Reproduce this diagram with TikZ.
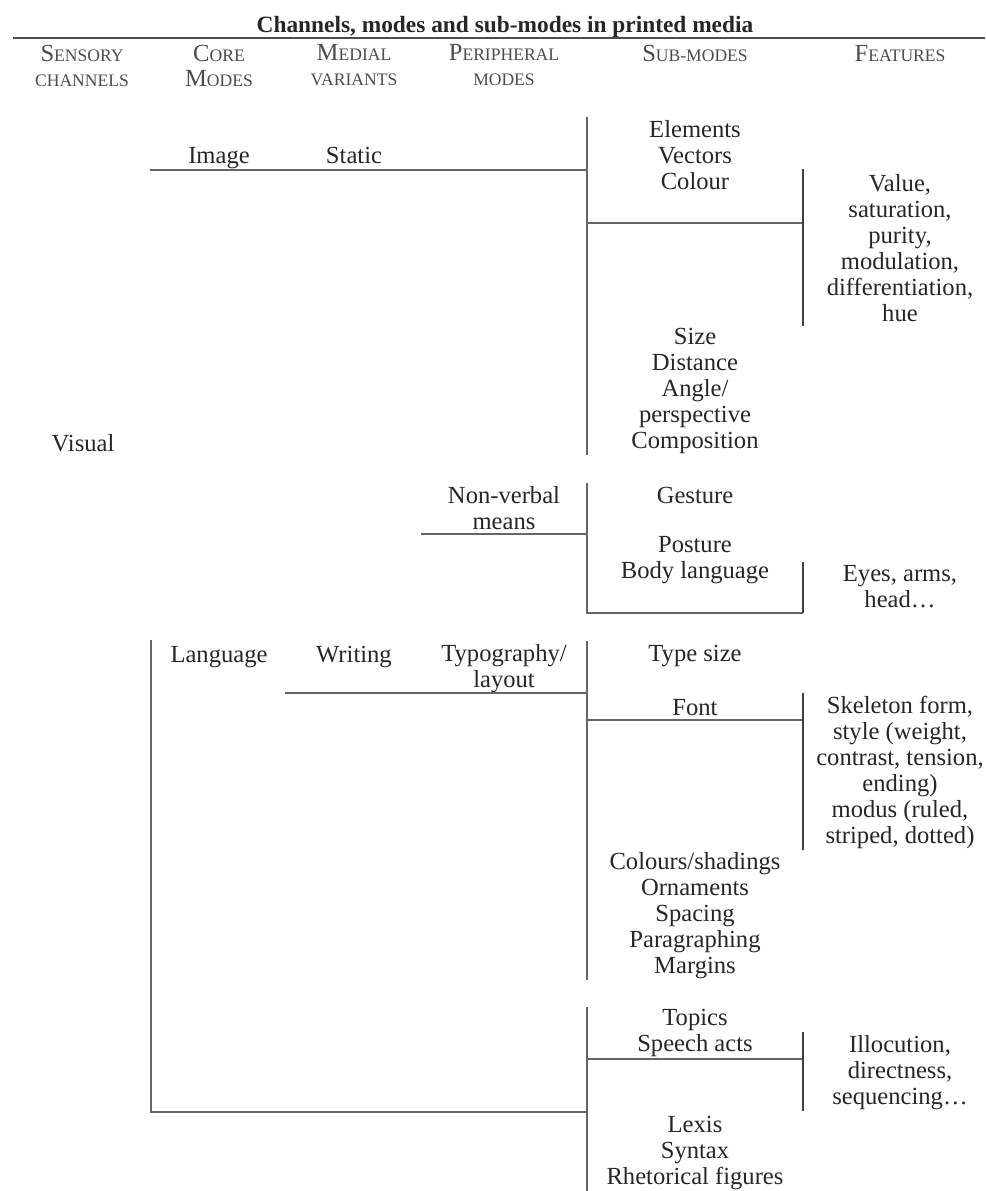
\documentclass[tikz,border=0pt]{standalone}
\usepackage{fontspec}
\setmainfont{Liberation Serif}
\newcommand\fakesc[2]{#1{\fontsize{10}{10}\selectfont #2}}
\tikzset{
  lbl/.style={font=\fontsize{14}{14.8}\selectfont, align=center, inner sep=0pt, text=black!85},
  one/.style={lbl, text height=11pt, text depth=1.5pt},
  hdr/.style={font=\fontsize{14}{14.2}\selectfont, align=center, inner sep=0pt, text=black!70},
  brk/.style={draw=black!60, line width=1.2pt},
  fbrk/.style={draw=black!75, line width=0.9pt},
}

\begin{document}
\begin{tikzpicture}[x=0.02cm, y=-0.02cm]
\useasboundingbox (0,0) rectangle (985,1191);
% title and column heads
\node[font=\bfseries\fontsize{13.3}{16}\selectfont, inner sep=0pt, text=black!85, text height=10.5pt, text depth=1.5pt] (title) at (505,25) {Channels, modes and sub-modes in printed media};
\coordinate (ruleL) at (13,38);
\coordinate (ruleR) at (985,38);
\draw[draw=black!70, line width=1.4pt] (ruleL) -- (ruleR);
\node[hdr] (hsens) at (82,65.5) {\fakesc{S}{ENSORY}\\\fakesc{}{CHANNELS}};
\node[hdr] (hcore) at (219,65.5) {\fakesc{C}{ORE}\\\fakesc{M}{ODES}};
\node[hdr] (hmed) at (354,65.5) {\fakesc{M}{EDIAL}\\\fakesc{}{VARIANTS}};
\node[hdr] (hper) at (504,65.5) {\fakesc{P}{ERIPHERAL}\\\fakesc{}{MODES}};
\node[hdr, text height=11pt, text depth=1.5pt] (hsub) at (695,53) {\fakesc{S}{UB-MODES}};
\node[hdr, text height=11pt, text depth=1.5pt] (hfeat) at (900,53) {\fakesc{F}{EATURES}};

% visual channel
\node[one] (visual) at (83,443) {Visual};
\node[one] (image) at (219,155) {Image};
\node[one] (static) at (354,155) {Static};
\node[lbl] (elements) at (695,155.5) {Elements\\Vectors\\Colour};
\node[lbl] (colourf) at (900,248) {Value,\\saturation,\\purity,\\modulation,\\differentiation,\\hue};
\node[lbl] (size) at (695,391) {Size\\Distance\\Angle/\\perspective\\Composition};
\node[lbl] (nonverbal) at (504,508.5) {Non-verbal\\means};
\node[one] (gesture) at (695,495) {Gesture};
\node[lbl] (posture) at (695,560.5) {Posture\\Body language};
\node[lbl] (bodyf) at (900,586.5) {Eyes, arms,\\head…};

% language
\node[one] (language) at (219,654) {Language};
\node[one] (writing) at (354,654) {Writing};
\node[lbl] (typo) at (504,669) {Typography/\\layout};
\node[one] (typesize) at (695,653) {Type size};
\node[one] (font) at (695,707) {Font};
\node[lbl] (fontf) at (900,772) {Skeleton form,\\style (weight,\\contrast, tension,\\ending)\\modus (ruled,\\striped, dotted)};
\node[lbl] (shadings) at (695,915.5) {Colours/shadings\\Ornaments\\Spacing\\Paragraphing\\Margins};
\node[lbl] (topics) at (695,1033) {Topics\\Speech acts};
\node[lbl] (speechf) at (900,1072.5) {Illocution,\\directness,\\sequencing…};
\node[lbl] (lexis) at (695,1153) {Lexis\\Syntax\\Rhetorical figures};

% bracket corners
\coordinate (imgL) at (150,170);
\coordinate (imgR) at (587,170);
\coordinate (imgT) at (587,117);
\coordinate (imgB) at (587,455);
\coordinate (colL) at (587,223);
\coordinate (colR) at (803,223);
\coordinate (colT) at (803,169);
\coordinate (colB) at (803,326);
\coordinate (nvL) at (421,534);
\coordinate (nvR) at (587,534);
\coordinate (nvT) at (587,483);
\coordinate (nvB) at (587,613);
\coordinate (bodyB) at (803,613);
\coordinate (bodyT) at (803,562);
\coordinate (langT) at (151,640);
\coordinate (langB) at (151,1112);
\coordinate (langR) at (587,1112);
\coordinate (wrL) at (285,693);
\coordinate (wrR) at (587,693);
\coordinate (wrT) at (587,641);
\coordinate (wrB) at (587,980);
\coordinate (fntL) at (587,720);
\coordinate (fntR) at (803,720);
\coordinate (fntT) at (803,693);
\coordinate (fntB) at (803,850);
\coordinate (lowT) at (587,1007);
\coordinate (lowB) at (587,1191);
\coordinate (spL) at (587,1059);
\coordinate (spR) at (803,1059);
\coordinate (spT) at (803,1032);
\coordinate (spB) at (803,1111);

% brackets
\draw[brk] (imgL) -- (imgR);
\draw[brk] (imgT) -- (imgB);
\draw[brk] (colL) -- (colR);
\draw[fbrk] (colT) -- (colB);
\draw[brk] (nvL) -- (nvR);
\draw[brk] (nvT) -- (nvB) -- (bodyB);
\draw[fbrk] (bodyT) -- (bodyB);
\draw[brk] (langT) -- (langB) -- (langR);
\draw[brk] (wrL) -- (wrR);
\draw[brk] (wrT) -- (wrB);
\draw[brk] (fntL) -- (fntR);
\draw[fbrk] (fntT) -- (fntB);
\draw[brk] (lowT) -- (lowB);
\draw[brk] (spL) -- (spR);
\draw[fbrk] (spT) -- (spB);
\end{tikzpicture}
\end{document}
